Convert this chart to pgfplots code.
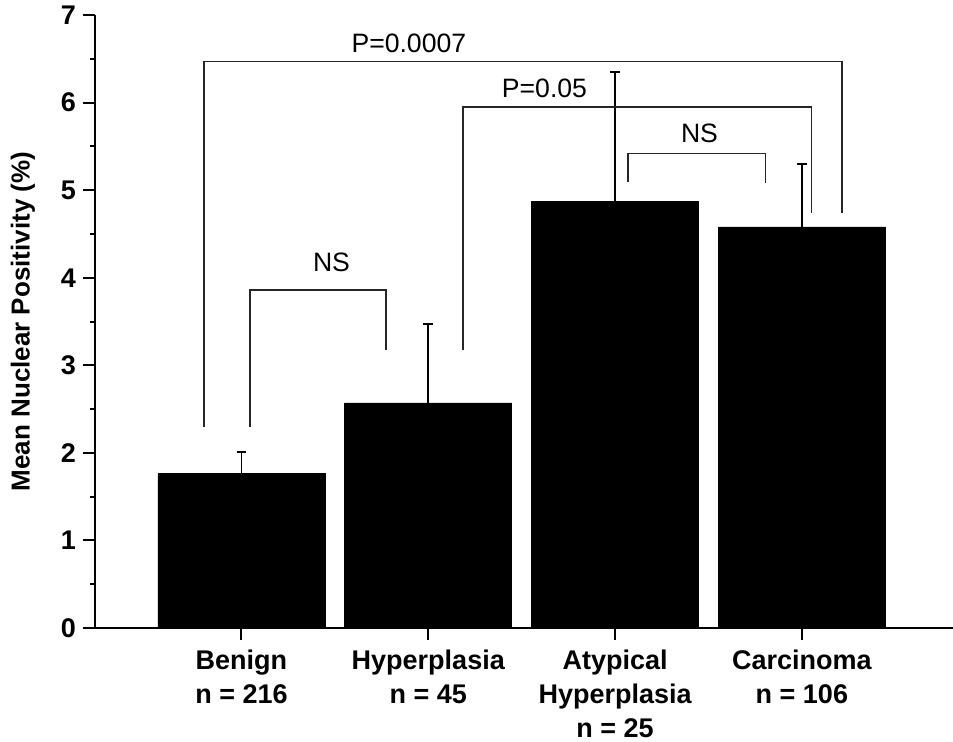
\documentclass[border=0pt]{standalone}
\usepackage{fontspec}
\setmainfont{Liberation Sans}
\usepackage{pgfplots}
\pgfplotsset{compat=1.18}
\begin{document}
\begin{tikzpicture}
\begin{axis}[
  scale only axis, width=429pt, height=306.5pt,
  xmin=-0.784, xmax=3.809, ymin=0, ymax=7,
  axis x line=bottom, axis y line=left,
  axis line style={-, line width=1pt, black},
  xtick={0,1,2,3},
  xticklabels={{Benign\\n = 216},{Hyperplasia\\n = 45},{Atypical\\Hyperplasia\\n = 25},{Carcinoma\\n = 106}},
  xticklabel style={align=center, font=\bfseries\fontsize{13.5}{17}\selectfont, yshift=-1.5pt},
  ytick={0,1,2,3,4,5,6,7}, minor ytick={0.5,1.5,2.5,3.5,4.5,5.5,6.5},
  yticklabel style={font=\bfseries\fontsize{13.5}{15}\selectfont},
  /pgf/number format/assume math mode=true,
  tick align=outside, major tick length=6pt, minor tick length=2.5pt,
  tick style={line width=1pt, black},
  ylabel={Mean Nuclear Positivity (\%)},
  ylabel style={font=\bfseries\fontsize{13}{15}\selectfont, at={(axis description cs:-0.084,0.5)}, anchor=center},
  clip=false,
]
\addplot[ybar, bar width=83.5pt, fill=black, draw=black,
  error bars/.cd, y dir=plus, y explicit,
  error bar style={line width=0.8pt, black},
  error mark options={black, line width=0.8pt, mark size=2.4pt, rotate=90}]
  table[x=x, y=y, y error=e] {
x y e
0 1.76 0.25
1 2.57 0.90
2 4.87 1.48
3 4.58 0.72
};
% significance brackets
\addplot[sharp plot, mark=none, line width=0.8pt, black!85] coordinates {(-0.2,2.29) (-0.2,6.47) (3.214,6.47) (3.214,4.74)};
\addplot[sharp plot, mark=none, line width=0.8pt, black!85] coordinates {(0.045,2.30) (0.045,3.86) (0.774,3.86) (0.774,3.17)};
\addplot[sharp plot, mark=none, line width=0.8pt, black!85] coordinates {(1.186,3.17) (1.186,5.95) (3.052,5.95) (3.052,4.74)};
\addplot[sharp plot, mark=none, line width=0.8pt, black!85] coordinates {(2.069,5.09) (2.069,5.42) (2.806,5.42) (2.806,5.08)};
\node[font=\fontsize{13.3}{15}\selectfont] at (axis cs:0.896,6.68) {P=0.0007};
\node[font=\fontsize{13.3}{15}\selectfont] at (axis cs:1.622,6.16) {P=0.05};
\node[font=\fontsize{13.3}{15}\selectfont] at (axis cs:0.482,4.18) {NS};
\node[font=\fontsize{13.3}{15}\selectfont] at (axis cs:2.452,5.65) {NS};
\end{axis}
\pgfresetboundingbox
\path[use as bounding box] (-47.5pt,-56.5pt) rectangle (429pt,314pt);
\end{tikzpicture}
\end{document}
